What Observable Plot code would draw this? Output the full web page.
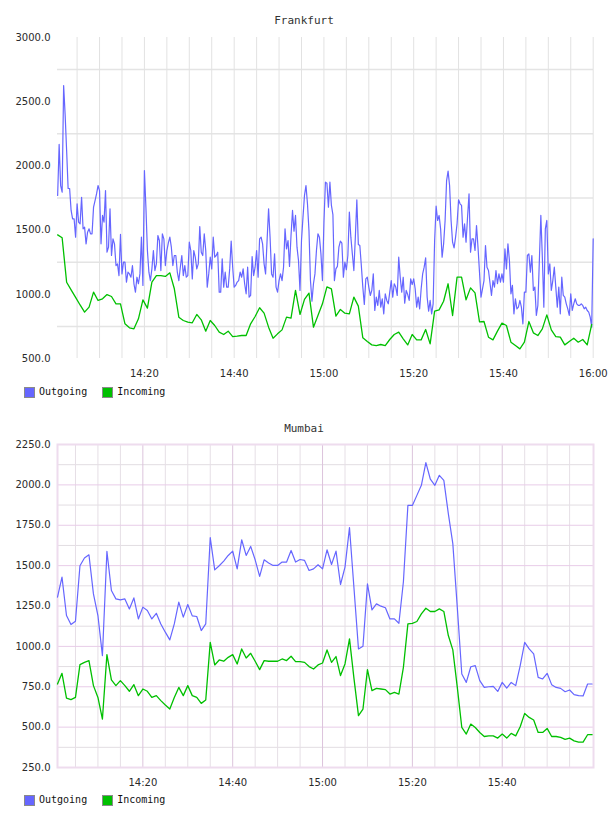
<!DOCTYPE html>
<html>
<head>
<meta charset="utf-8">
<script src="https://cdn.jsdelivr.net/npm/d3@7"></script>
<script src="https://cdn.jsdelivr.net/npm/@observablehq/plot@0.6"></script>
<style>
  html, body { margin: 0; padding: 0; background: #fff; }
  #page { position: relative; width: 608px; height: 816px; overflow: hidden; background: #fff; }
  .panel { position: absolute; left: 0; }
  .title { position: absolute; left: 0; width: 608px; text-align: center;
           font: 11px "DejaVu Sans Mono", monospace; color: #333; line-height: 13px; }
  .legend { position: absolute; left: 24px; display: flex; align-items: center;
            font: 10px "DejaVu Sans Mono", monospace; color: #111; line-height: 12px; }
  .legend .item { display: flex; align-items: center; margin-right: 15px; }
  .legend .sw { width: 9px; height: 9px; border: 1px solid #8a8a8a; margin-right: 4px; }
</style>
</head>
<body>
<div id="page"></div>
<script>
// Frankfurt: outgoing sampled every 20 s, incoming every minute, from 14:00:40
const frankfurtOutgoing = [
  1770, 2167, 1847, 1795, 2626, 2400, 2120, 1824, 1824,
  1653, 1588, 1588, 1445, 1705, 1562, 1549, 1756, 1510, 1523,
  1393, 1484, 1510, 1471, 1471, 1679, 1730, 1782, 1847, 1808,
  1393, 1614, 1562, 1808, 1328, 1367, 1666, 1302, 1432, 1393,
  1224, 1237, 1146, 1466, 1159, 1250, 1250, 1095, 1172, 1159,
  1133, 1224, 1082, 1017, 1133, 1082, 1159, 1445, 1069, 1964,
  1679, 1341, 1172, 1107, 1198, 1341, 1185, 1237, 1458, 1419,
  1185, 1471, 1432, 1224, 1341, 1400, 1445, 1367, 1224, 1302,
  1302, 1172, 1107, 1211, 1302, 1146, 1224, 1133, 1146, 1406,
  1341, 1120, 1341,
  1289, 1198, 1237, 1528, 1328, 1302, 1471, 1341, 1056, 1159,
  1289, 1198, 1445, 1289, 1302, 1328, 1017, 1017, 1276, 1056,
  1172, 1056, 1056, 1198, 1414, 1211, 1056, 1069, 1095, 1107,
  1172, 1133, 1198, 1082, 1004, 1211, 978, 991, 1294, 1146,
  1211, 1341, 1133, 1432, 1445, 1393, 1237, 1159, 1419, 1666,
  1445, 1159, 1133, 1315, 1056, 1017, 1107, 1159, 1107, 1211,
  1510, 1354, 1419, 1217, 1458, 1653, 1492, 1614, 1367, 1263,
  1030, 1419, 1601, 1770, 1847, 1705, 1497, 1107, 947, 1082,
  1159, 1341, 1471, 1445, 1315, 1107, 1562, 1873, 1865, 1679,
  1873,
  1692, 1621, 1107, 1198, 1217, 1367, 1414, 1398, 1133, 1250,
  1191, 1302, 1640, 1445, 1315, 1185, 1445, 1736, 1388, 1380,
  1224, 1056, 921, 1120, 1133, 1056, 991, 1030, 1159, 874,
  978, 913, 1030, 900, 965, 848, 1004, 952, 926, 1017,
  1107, 978, 1082, 1056, 991, 1289, 1133, 1017, 1133, 931,
  1030, 998, 952, 1120, 1076, 1120, 1043, 900, 978, 887,
  1043, 1159, 1211, 1284, 978, 869, 952, 848, 926, 1419,
  1686, 1575, 1614, 1510, 1289, 1393, 1575, 1886, 1959, 1847,
  1575, 1406, 1362, 1445, 1549, 1736, 1705,
  1692, 1445, 1549,
  1406, 1600, 1782, 1328, 1432, 1432, 1341, 1536, 1367, 1170, 978, 1043,
  1107, 1380, 1211, 1185, 1090, 991, 1107, 1056, 1185, 1082, 1159,
  1095, 1159, 1095, 1354, 1198, 1393, 1263, 1004, 1069, 848,
  965, 887, 900, 952, 900, 770, 1017, 1017, 1302, 1315,
  1172, 1302, 1030, 1056, 835, 913, 1260, 1614, 1289, 900, 1510,
  1575, 1159, 1237, 1030, 1107, 1211, 1056, 900, 1056, 848,
  1133, 991, 978, 926, 887, 835, 1004, 874, 926, 965,
  926, 913, 913, 926, 913, 887, 900, 874, 861,
  822, 744, 1432
];
const frankfurtIncoming = [
  1463, 1440, 1094, 1035, 976, 917, 861, 900, 1017, 952,
  965, 998, 983, 926, 926, 770, 739, 731, 809, 957,
  892, 1094, 1146, 1146, 1139, 1167, 1043, 822, 796, 783,
  778, 843, 801, 713, 796, 757, 705, 687, 713, 671,
  674, 679, 679, 770, 827, 895, 853, 744, 658, 692,
  723, 822, 814, 1030, 843, 960, 1009, 744, 835, 926,
  1058, 1043, 830, 882, 853, 848, 978, 908, 661, 632,
  606, 601, 609, 601, 648, 687, 705, 653, 606, 687,
  645, 645, 726, 614, 869, 879, 946, 1082, 835, 1134,
  1134, 957, 1050, 1011, 786, 788, 666, 645, 713, 775,
  757, 627, 601, 575, 627, 788, 700, 679, 731, 840,
  723, 671, 666, 606, 632, 658, 627, 648, 606, 765
];

// Mumbai: both series sampled every minute from 14:01
const mumbaiOutgoing = [
  1305, 1429, 1191, 1135, 1156, 1499, 1547, 1567, 1325, 1191,
  943, 1588, 1346, 1294, 1288, 1294, 1232, 1300, 1170, 1243,
  1222, 1170, 1205, 1139, 1088, 1040, 1139, 1274, 1181, 1259,
  1189, 1185, 1098, 1139, 1673, 1474, 1499, 1528, 1563, 1590,
  1480, 1660, 1563, 1619, 1536, 1433, 1536, 1516, 1501, 1501,
  1522, 1522, 1594, 1522, 1538, 1532, 1470, 1480, 1505, 1480,
  1598, 1507, 1590, 1383, 1491, 1735, 1360, 984, 1001, 1387,
  1226, 1263, 1249, 1239, 1170, 1170, 1143, 1400, 1873, 1873,
  1935, 1997, 2138, 2035, 1997, 2059, 2028, 1822, 1636, 1240,
  829, 777, 874, 881, 788, 746, 750, 752, 721, 777,
  742, 777, 757, 881, 1025, 984, 953, 808, 798, 833,
  763, 746, 740, 719, 730, 701, 695, 693, 767, 767
];
const mumbaiIncoming = [
  767, 833, 680, 670, 684, 887, 901, 912, 757, 684,
  550, 949, 792, 757, 788, 757, 722, 763, 695, 736,
  722, 684, 695, 664, 637, 612, 684, 746, 695, 757,
  695, 684, 647, 668, 1025, 885, 916, 908, 932, 949,
  891, 984, 928, 957, 908, 856, 912, 908, 908, 908,
  922, 912, 939, 906, 906, 901, 875, 860, 885, 897,
  978, 901, 937, 819, 891, 1046, 800, 571, 612, 856,
  726, 740, 736, 732, 705, 715, 705, 870, 1139, 1143,
  1154, 1201, 1236, 1216, 1216, 1232, 1216, 1067, 978, 746,
  498, 457, 519, 498, 467, 442, 446, 446, 432, 457,
  432, 461, 446, 502, 585, 560, 544, 467, 467, 492,
  442, 442, 436, 424, 432, 415, 407, 407, 453, 453
];

const seriesNames = ["Outgoing", "Incoming"];
const seriesColors = ["#6666ff", "#00c000"];

const frankfurtYTicks = [500, 1000, 1500, 2000, 2500, 3000];
const frankfurtYGrid = [750, 1250, 1750, 2250, 2750];
const mumbaiYTicks = [250, 500, 750, 1000, 1250, 1500, 1750, 2000, 2250];
const mumbaiYMinor = [375, 625, 875, 1125, 1375, 1625, 1875, 2125];

const at = (h, m, s = 0) => new Date(2024, 0, 15, h, m, s);
const frankfurtDomain = [at(14, 0, 38), at(16, 0, 4)];
const mumbaiDomain = [at(14, 1, 0), at(16, 0, 19)];
const frankfurtXTicks = [at(14, 20), at(14, 40), at(15, 0), at(15, 20), at(15, 40), at(16, 0)];
const mumbaiXTicks = [at(14, 20), at(14, 40), at(15, 0), at(15, 20), at(15, 40)];

function timed(values, start, stepSeconds) {
  return values.map((v, i) => ({time: new Date(+start + i * stepSeconds * 1000), value: v}));
}

const fOut = timed(frankfurtOutgoing, at(14, 0, 40), 20);
const fIn = timed(frankfurtIncoming, at(14, 0, 40), 60);
const mOut = timed(mumbaiOutgoing, at(14, 1, 0), 60);
const mIn = timed(mumbaiIncoming, at(14, 1, 0), 60);

const fmtTime = d3.timeFormat("%H:%M");
const fmtVal = d3.format(".1f");
const axisStyle = {fontFamily: "'DejaVu Sans', sans-serif", fontSize: "10px", color: "#2a2a2a", background: "#fff", overflow: "hidden"};

const page = document.getElementById("page");

function addTitle(text, top) {
  const t = document.createElement("div");
  t.className = "title";
  t.style.top = top + "px";
  t.textContent = text;
  page.appendChild(t);
}

function addLegend(top) {
  const lg = document.createElement("div");
  lg.className = "legend";
  lg.style.top = top + "px";
  seriesNames.forEach((name, i) => {
    const item = document.createElement("div");
    item.className = "item";
    const sw = document.createElement("span");
    sw.className = "sw";
    sw.style.background = seriesColors[i];
    const label = document.createElement("span");
    label.textContent = name;
    item.appendChild(sw);
    item.appendChild(label);
    lg.appendChild(item);
  });
  page.appendChild(lg);
}

function addPanel(svg, top) {
  svg.classList.add("panel");
  svg.style.top = top + "px";
  page.appendChild(svg);
}

// Frankfurt panel
const frankfurt = Plot.plot({
  width: 608, height: 385,
  marginTop: 37, marginBottom: 27, marginLeft: 57, marginRight: 15,
  style: axisStyle,
  x: {type: "time", domain: frankfurtDomain, label: null},
  y: {domain: [500, 3000], label: null},
  marks: [
    Plot.ruleY(frankfurtYGrid, {stroke: "#e4e4e4", strokeWidth: 1.5}),
    Plot.ruleX(d3.timeMinute.every(5).range(at(14, 5), at(16, 0, 1)), {stroke: "#e2e2e2", strokeWidth: 1}),
    Plot.axisY({ticks: frankfurtYTicks, tickFormat: fmtVal, tickSize: 0, tickPadding: 7, label: null}),
    Plot.axisX({ticks: frankfurtXTicks, tickFormat: fmtTime, tickSize: 0, tickPadding: 11, label: null}),
    Plot.line(fOut, {x: "time", y: "value", stroke: seriesColors[0], strokeWidth: 1.2}),
    Plot.line(fIn, {x: "time", y: "value", stroke: seriesColors[1], strokeWidth: 1.3})
  ]
});

// Mumbai panel
const mumbai = Plot.plot({
  width: 608, height: 392,
  marginTop: 44, marginBottom: 25, marginLeft: 57, marginRight: 15,
  style: axisStyle,
  x: {type: "time", domain: mumbaiDomain, label: null},
  y: {domain: [250, 2250], label: null},
  marks: [
    Plot.ruleY(mumbaiYMinor, {stroke: "#e2dde2", strokeWidth: 1}),
    Plot.ruleX(d3.timeMinute.every(5).range(at(14, 5), at(16, 0)).filter(d => d.getMinutes() % 20 !== 0),
      {stroke: "#e6dfe6", strokeWidth: 1}),
    Plot.ruleY(mumbaiYTicks, {stroke: "#e8cce8", strokeWidth: 1}),
    Plot.ruleX(mumbaiXTicks, {stroke: "#dcc4dc", strokeWidth: 1}),
    Plot.frame({stroke: "#eedcee", strokeWidth: 2}),
    Plot.axisY({ticks: mumbaiYTicks, tickFormat: fmtVal, tickSize: 0, tickPadding: 7, label: null}),
    Plot.axisX({ticks: mumbaiXTicks, tickFormat: fmtTime, tickSize: 0, tickPadding: 11, label: null}),
    Plot.line(mOut, {x: "time", y: "value", stroke: seriesColors[0], strokeWidth: 1.2}),
    Plot.line(mIn, {x: "time", y: "value", stroke: seriesColors[1], strokeWidth: 1.3})
  ]
});

addPanel(frankfurt, 0);
addPanel(mumbai, 400);
addTitle("Frankfurt", 14);
addTitle("Mumbai", 422);
addLegend(386);
addLegend(794);
</script>
</body>
</html>
